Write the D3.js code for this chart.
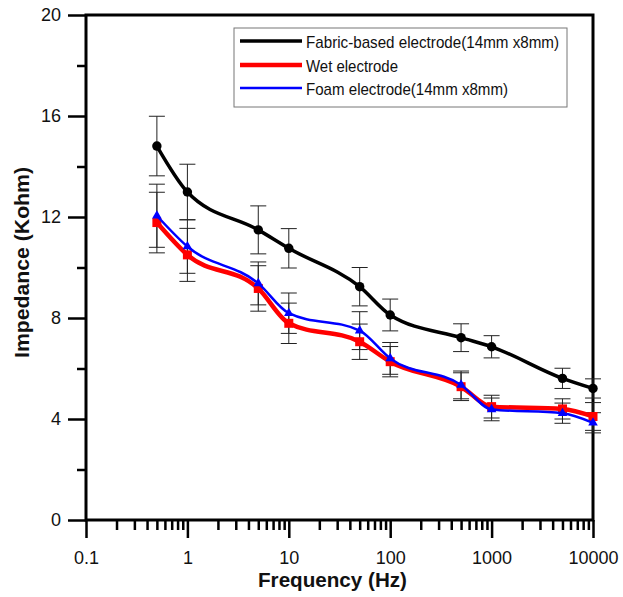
<!DOCTYPE html>
<html>
<head>
<meta charset="utf-8">
<script src="https://cdn.jsdelivr.net/npm/d3@7"></script>
<style>
  body { margin: 0; background: #fff; }
  text { font-family: Arial, "Liberation Sans", sans-serif; }
</style>
</head>
<body>
<svg id="chart" width="623" height="597"></svg>
<script>
// data
const freqs = [0.5, 1, 5, 10, 50, 100, 500, 1000, 5000, 10000];
const fabric = [14.81, 12.99, 11.49, 10.76, 9.24, 8.12, 7.22, 6.86, 5.61, 5.21];
const fabricErr = [1.18, 1.1, 0.95, 0.78, 0.76, 0.63, 0.55, 0.44, 0.4, 0.38];
const wet = [11.78, 10.5, 9.17, 7.79, 7.06, 6.27, 5.28, 4.49, 4.4, 4.1];
const wetErr = [1.2, 1.05, 0.9, 0.8, 0.7, 0.6, 0.55, 0.45, 0.4, 0.55];
const foam = [12.05, 10.83, 9.37, 8.19, 7.5, 6.4, 5.35, 4.38, 4.23, 3.85];
const foamErr = [1.25, 1.06, 0.85, 0.8, 0.75, 0.63, 0.55, 0.45, 0.4, 0.4];

const xTicks = [0.1, 1, 10, 100, 1000, 10000];
const yTicks = [0, 4, 8, 12, 16, 20];
const yMinor = [2, 6, 10, 14, 18];
const legendNames = ["Fabric-based electrode(14mm x8mm)", "Wet electrode", "Foam electrode(14mm x8mm)"];

const plotLeft = 86, plotRight = 593, plotTop = 15, plotBottom = 520;

const svg = d3.select("#chart");

const x = d3.scaleLog().domain([0.1, 10000]).range([plotLeft, plotRight]);
const y = d3.scaleLinear().domain([0, 20]).range([plotBottom, plotTop]);

// minor x ticks 2..9 per decade
let xMinor = [];
for (let d = 0.1; d < 10000; d *= 10) {
  for (let k = 2; k <= 9; k++) xMinor.push(+(d * k).toPrecision(3));
}

// axes
const gx = svg.append("g").attr("transform", "translate(0," + plotBottom + ")");
gx.call(d3.axisBottom(x).tickValues(xMinor).tickSize(10).tickFormat(""));
gx.call(g => g.select(".domain").remove());
const gx2 = svg.append("g").attr("transform", "translate(0," + plotBottom + ")");
gx2.call(d3.axisBottom(x).tickValues(xTicks).tickSize(18).tickPadding(10).tickFormat(d => d3.format("")(d)));
gx2.call(g => g.select(".domain").remove());
gx2.selectAll("text").attr("font-size", 18).attr("fill", "#111").attr("dy", "0.9em");

const gy = svg.append("g").attr("transform", "translate(" + plotLeft + ",0)");
gy.call(d3.axisLeft(y).tickValues(yMinor).tickSize(9).tickFormat(""));
gy.call(g => g.select(".domain").remove());
const gy2 = svg.append("g").attr("transform", "translate(" + plotLeft + ",0)");
gy2.call(d3.axisLeft(y).tickValues(yTicks).tickSize(18).tickPadding(7));
gy2.call(g => g.select(".domain").remove());
gy2.selectAll("text").attr("font-size", 18).attr("fill", "#111");

svg.selectAll(".tick line").attr("stroke", "#000").attr("stroke-width", 2.5);

// frame
svg.append("rect")
  .attr("x", plotLeft).attr("y", plotTop)
  .attr("width", plotRight - plotLeft).attr("height", plotBottom - plotTop)
  .attr("fill", "none").attr("stroke", "#000").attr("stroke-width", 3);

// axis titles
svg.append("text")
  .attr("x", 258).attr("y", 587)
  .attr("font-size", 20).attr("font-weight", "bold").attr("fill", "#111")
  .attr("textLength", 149).attr("lengthAdjust", "spacingAndGlyphs")
  .text("Frequency (Hz)");

svg.append("text")
  .attr("transform", "translate(29,358) rotate(-90)")
  .attr("font-size", 20).attr("font-weight", "bold").attr("fill", "#111")
  .attr("textLength", 191).attr("lengthAdjust", "spacingAndGlyphs")
  .text("Impedance (Kohm)");

// series
const series = [
  { vals: fabric, err: fabricErr, color: "#000", width: 3.5, marker: "circle" },
  { vals: wet, err: wetErr, color: "#ff0000", width: 4.5, marker: "square" },
  { vals: foam, err: foamErr, color: "#0000ff", width: 2.5, marker: "triangle" }
];

const line = d3.line()
  .x(d => x(d.f))
  .y(d => y(d.v))
  .curve(d3.curveMonotoneX);

// error bars first
series.forEach(s => {
  const pts = freqs.map((f, i) => ({ f: f, v: s.vals[i], e: s.err[i] }));
  const eb = svg.append("g").attr("stroke", "#222").attr("stroke-width", 1);
  pts.forEach(p => {
    const cx = x(p.f);
    eb.append("line").attr("x1", cx).attr("x2", cx).attr("y1", y(p.v - p.e)).attr("y2", y(p.v + p.e));
    eb.append("line").attr("x1", cx - 8).attr("x2", cx + 8).attr("y1", y(p.v + p.e)).attr("y2", y(p.v + p.e));
    eb.append("line").attr("x1", cx - 8).attr("x2", cx + 8).attr("y1", y(p.v - p.e)).attr("y2", y(p.v - p.e));
  });
});

series.forEach(s => {
  const pts = freqs.map((f, i) => ({ f: f, v: s.vals[i] }));
  svg.append("path")
    .datum(pts)
    .attr("fill", "none")
    .attr("stroke", s.color)
    .attr("stroke-width", s.width)
    .attr("stroke-linejoin", "round")
    .attr("d", line);

  let sym;
  if (s.marker === "circle") sym = d3.symbol().type(d3.symbolCircle).size(70);
  else if (s.marker === "square") sym = d3.symbol().type(d3.symbolSquare).size(81);
  else sym = d3.symbol().type(d3.symbolTriangle).size(40);

  svg.append("g").selectAll("path")
    .data(pts)
    .join("path")
    .attr("transform", d => "translate(" + x(d.f) + "," + y(d.v) + ")")
    .attr("d", sym)
    .attr("fill", s.color);
});

// legend
const legend = svg.append("g");
legend.append("rect")
  .attr("x", 234).attr("y", 28).attr("width", 333).attr("height", 79)
  .attr("fill", "#fff").attr("stroke", "#777").attr("stroke-width", 1);

const legendY = [41, 65, 88];
const legendLen = [253, 92, 202];
series.forEach((s, i) => {
  legend.append("line")
    .attr("x1", 240).attr("x2", 302)
    .attr("y1", legendY[i]).attr("y2", legendY[i])
    .attr("stroke", s.color).attr("stroke-width", s.width);
  legend.append("text")
    .attr("x", 306).attr("y", legendY[i] + 6.5)
    .attr("font-size", 17).attr("fill", "#111")
    .attr("textLength", legendLen[i]).attr("lengthAdjust", "spacingAndGlyphs")
    .text(legendNames[i]);
});
</script>
</body>
</html>
